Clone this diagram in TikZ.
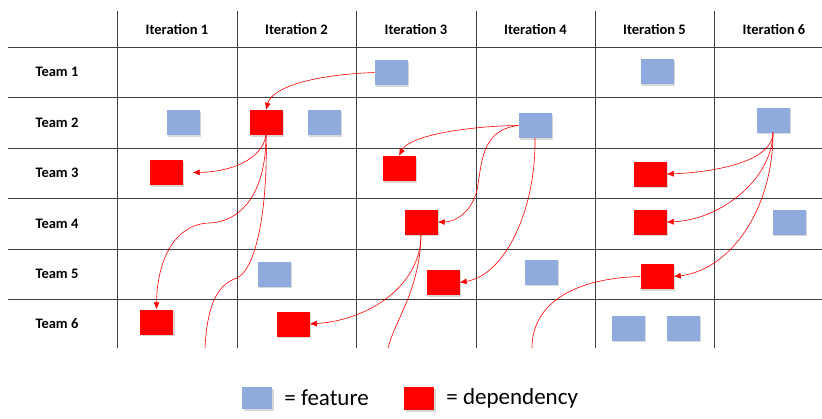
\documentclass[tikz,border=0pt]{standalone}
\usepackage{fontspec}
\setmainfont{Carlito}
\usetikzlibrary{arrows.meta,shadows,positioning}
\definecolor{featblue}{RGB}{143,170,220}

\begin{document}
\begin{tikzpicture}[x=1pt,y=-1pt,
		gridline/.style={draw=black!75,line width=0.8pt},
		head/.style={font=\fontsize{14.5}{17}\selectfont\bfseries},
		feat/.style={fill=featblue,minimum width=33pt,minimum height=25pt,inner sep=0pt,
			drop shadow={shadow xshift=1.5pt,shadow yshift=-1.5pt,opacity=0.3}},
		dep/.style={feat,fill=red},
		link/.style={draw=red,line width=0.6pt},
		arr/.style={link,-{Latex[length=7pt,width=6pt]}},
		legend/.style={font=\fontsize{23}{27}\selectfont,inner sep=0pt}]
		
		\useasboundingbox[fill=white] (0,0) rectangle (822,418);
		
		\foreach \x in {117,237,356,476,595,714} \draw[gridline] (\x,11) -- (\x,348);
		\foreach \y in {47,97,148,198,249,299} \draw[gridline] (8,\y) -- (822,\y);
		
		\foreach \i/\x in {1/177,2/296.5,3/416,4/535.5,5/654.5,6/774}
			\node[head] (it\i) at (\x,29) {Iteration \i};
		\foreach \i/\y in {1/72,2/122.5,3/173,4/223.5,5/274,6/324}
			\node[head] (t\i) at (57,\y) {Team \i};
		
		\node[feat] (f13) at (391,72.5) {};
		\node[feat] (f15) at (657,71.5) {};
		\node[feat] (f21) at (183,122.5) {};
		\node[feat] (f22) at (324,122.5) {};
		\node[feat] (f24) at (535,125.5) {};
		\node[feat] (f26) at (773,120) {};
		\node[feat] (f46) at (789,222) {};
		\node[feat] (f52) at (274,274) {};
		\node[feat] (f54) at (541,272) {};
		\node[feat] (f65a) at (628,328) {};
		\node[feat] (f65b) at (683,328) {};
		
		\node[dep] (d22) at (266,122.5) {};
		\node[dep] (d31) at (166,172.5) {};
		\node[dep] (d33) at (399,168.5) {};
		\node[dep] (d35) at (650,174) {};
		\node[dep] (d43) at (421,222) {};
		\node[dep] (d45) at (650,222) {};
		\node[dep] (d53) at (443,282.5) {};
		\node[dep] (d55) at (657,276.5) {};
		\node[dep] (d61) at (156.5,322) {};
		\node[dep] (d62) at (293,324) {};
		
		\coordinate (out1) at (205,348);
		\coordinate (out2) at (388,348);
		\coordinate (out3) at (532,348);
		
		\draw[arr] (f13.west) .. controls (310,75) and (272,88) .. (d22.north);
		\draw[arr] (d22.south) .. controls (262,160) and (230,172) .. ([xshift=10pt]d31.east);
		\draw[arr] (d22.south) .. controls (266,195) and (240,222) .. (209,223) .. controls (175,224) and (157,260) .. (d61.north);
		\draw[link] (d22.south) .. controls (268,200) and (258,268) .. (237,278) .. controls (215,285) and (207,310) .. (out1);
		\draw[arr] (f24.west) .. controls (470,126) and (410,135) .. (d33.north);
		\draw[arr] (f24.west) .. controls (480,130) and (482,165) .. (477,190) .. controls (472,212) and (455,222) .. (d43.east);
		\draw[arr] (f24.south) .. controls (536,210) and (505,275) .. (d53.east);
		\draw[arr] (d43.south) .. controls (421,285) and (370,320) .. (d62.east);
		\draw[link] (d43.south) .. controls (420,290) and (395,320) .. (out2);
		\draw[arr] (f26.south) .. controls (773,160) and (720,172) .. (d35.east);
		\draw[arr] (f26.south) .. controls (772,180) and (720,220) .. (d45.east);
		\draw[arr] (f26.south) .. controls (773,210) and (730,270) .. (d55.east);
		\draw[link] (d55.west) .. controls (580,278) and (532,300) .. (out3);
		
		\node[feat,minimum width=30pt,minimum height=22pt] (lf) at (257,398) {};
		\node[legend,right=12pt of lf] (lftext) {= feature};
		\node[dep,minimum width=30pt,minimum height=23pt] (ld) at (419,398.5) {};
		\node[legend,right=12pt of ld] (ldtext) {= dependency};
		
\end{tikzpicture}
\end{document}
